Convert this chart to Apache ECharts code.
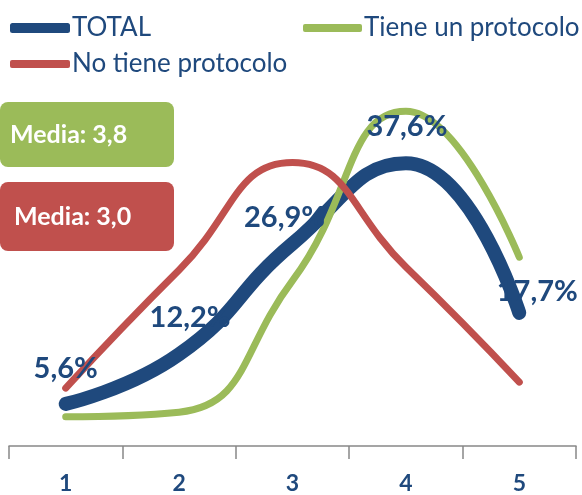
<!DOCTYPE html>
<html>
<head>
<meta charset="utf-8">
<script src="https://cdn.jsdelivr.net/npm/echarts@6/dist/echarts.min.js"></script>
<style>
  html, body { margin: 0; padding: 0; background: #fff; }
  #chart { width: 582px; height: 495px; }
</style>
</head>
<body>
<div id="chart"></div>
<script>
var categories = ['1', '2', '3', '4', '5'];
var totalValues = [5.6, 12.2, 26.9, 37.6, 17.7];
var conProtocolo = [3.9, 4.5, 22.0, 44.5, 25.1];
var sinProtocolo = [7.7, 23.4, 37.7, 23.8, 8.5];
var totalLabels = ['5,6%', '12,2%', '26,9%', '37,6%', '17,7%'];
var labelOffsets = [[0, -35], [11, -37], [-8, -26], [1, -37], [18, -21]];

var blue = '#1F497D', green = '#9BBB59', red = '#C0504D';
var font = 'Lato';

var chart = echarts.init(document.getElementById('chart'));

var option = {
    animation: false,
    legend: [
        { data: [{ name: 'TOTAL', icon: 'roundRect' }], left: 10, top: 15, padding: 0,
          itemWidth: 60, itemHeight: 10,
          textStyle: { color: blue, fontSize: 26, fontFamily: font, padding: [0, 0, 0, -3] } },
        { data: [{ name: 'Tiene un protocolo', icon: 'roundRect' }], left: 303, top: 15, padding: 0,
          itemWidth: 59, itemHeight: 8,
          textStyle: { color: blue, fontSize: 26, fontFamily: font, padding: [0, 0, 0, -3] } },
        { data: [{ name: 'No tiene protocolo', icon: 'roundRect' }], left: 10, top: 51, padding: 0,
          itemWidth: 60, itemHeight: 8,
          textStyle: { color: blue, fontSize: 26, fontFamily: font, padding: [0, 0, 0, -3] } }
    ],
    grid: { left: 9, right: 6, top: 70, bottom: 49 },
    xAxis: {
        type: 'category',
        data: categories,
        boundaryGap: true,
        axisLine: { show: true, lineStyle: { color: '#888', width: 1.5 } },
        axisTick: { show: true, length: 13, lineStyle: { color: '#888', width: 1.5 } },
        axisLabel: { color: blue, fontSize: 23, fontWeight: 'bold', fontFamily: font, margin: 26 }
    },
    yAxis: {
        type: 'value', min: 0, max: 50, show: false,
        splitLine: { show: false }
    },
    series: [
        {
            name: 'TOTAL', type: 'line', smooth: true, showSymbol: false,
            data: totalValues,
            lineStyle: { color: blue, width: 14, cap: 'round' },
            itemStyle: { color: blue },
            z: 2
        },
        {
            name: 'Tiene un protocolo', type: 'line', smooth: true, showSymbol: false,
            data: conProtocolo,
            lineStyle: { color: green, width: 7, cap: 'round' },
            itemStyle: { color: green },
            z: 3
        },
        {
            name: 'No tiene protocolo', type: 'line', smooth: true, showSymbol: false,
            data: sinProtocolo,
            lineStyle: { color: red, width: 7, cap: 'round' },
            itemStyle: { color: red },
            z: 4
        },
        {
            // etiquetas de TOTAL, por encima de todas las líneas
            name: 'TOTAL etiquetas', type: 'line', smooth: true,
            showSymbol: true, symbol: 'circle', symbolSize: 1,
            data: totalValues.map(function (v, i) {
                return {
                    value: v,
                    label: { show: true, position: 'inside', offset: labelOffsets[i],
                             formatter: totalLabels[i] }
                };
            }),
            lineStyle: { width: 0, color: 'rgba(0,0,0,0)' },
            itemStyle: { color: 'rgba(0,0,0,0)' },
            label: { show: true, color: blue, fontSize: 29, fontWeight: 'bold', fontFamily: font },
            silent: true,
            z: 10
        }
    ],
    graphic: [
        { type: 'rect', shape: { x: 0, y: 102, width: 174, height: 65, r: 8 },
          style: { fill: green }, z: 10 },
        { type: 'text', x: 10, y: 135, z: 11,
          style: { text: 'Media: 3,8', fill: '#fff', font: 'bold 25px Lato', verticalAlign: 'middle' } },
        { type: 'rect', shape: { x: 0, y: 182, width: 174, height: 69, r: 8 },
          style: { fill: red }, z: 10 },
        { type: 'text', x: 14, y: 217, z: 11,
          style: { text: 'Media: 3,0', fill: '#fff', font: 'bold 25px Lato', verticalAlign: 'middle' } }
    ]
};

chart.setOption(option);
</script>
</body>
</html>
